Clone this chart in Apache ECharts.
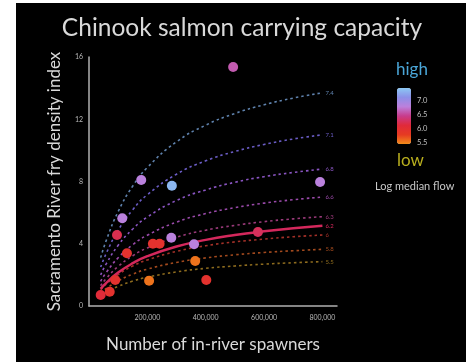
<!DOCTYPE html>
<html>
<head>
<meta charset="utf-8">
<script src="https://cdn.jsdelivr.net/npm/echarts@6/dist/echarts.min.js"></script>
<style>
  html, body { margin: 0; padding: 0; background: #ffffff; }
  #chart { width: 466px; height: 362px; }
</style>
</head>
<body>
<div id="chart"></div>
<script>
// Observed years: spawner counts, fry density index and log median flow
const spawners = [40000, 71000, 90000, 206000, 130000, 96000, 114000, 179000, 284000,
                  219000, 242000, 282000, 360000, 364000, 402000, 579000, 494000, 792000];
const fryIndex = [0.71, 0.92, 1.67, 1.62, 3.39, 4.56, 5.64, 8.1, 7.73,
                  4.0, 4.0, 4.39, 3.97, 2.89, 1.67, 4.76, 15.36, 7.97];
const logFlow  = [6.1, 5.95, 5.95, 5.55, 5.95, 6.2, 6.8, 6.8, 7.35,
                  5.95, 5.95, 6.8, 6.8, 5.55, 5.95, 6.25, 6.6, 6.8];

// Carrying-capacity curves for a range of log median flows
const curveX = [40000, 60000, 100000, 150000, 200000, 300000, 400000, 500000, 600000, 700000, 800000];
const curveLabels = ['7.4', '7.1', '6.8', '6.6', '6.3', '6.2', '6', '5.8', '5.5'];
const curve74 = [3.11, 4.26, 6.07, 7.71, 8.9, 10.55, 11.62, 12.37, 12.93, 13.36, 13.7];
const curve71 = [2.5, 3.42, 4.87, 6.19, 7.15, 8.47, 9.33, 9.93, 10.38, 10.73, 11.0];
const curve68 = [2.0, 2.74, 3.9, 4.95, 5.72, 6.78, 7.46, 7.95, 8.31, 8.58, 8.8];
const curve66 = [1.59, 2.18, 3.1, 3.94, 4.55, 5.39, 5.94, 6.32, 6.61, 6.83, 7.0];
const curve63 = [1.3, 1.79, 2.54, 3.23, 3.73, 4.42, 4.87, 5.18, 5.42, 5.6, 5.74];
const curve62 = [1.1, 1.5, 2.15, 2.75, 3.2, 3.82, 4.25, 4.56, 4.8, 5.0, 5.16];
const curve60 = [1.04, 1.42, 2.02, 2.57, 2.96, 3.51, 3.87, 4.12, 4.3, 4.45, 4.56];
const curve58 = [0.83, 1.13, 1.61, 2.05, 2.37, 2.8, 3.09, 3.29, 3.44, 3.55, 3.64];
const curve55 = [0.65, 0.89, 1.26, 1.6, 1.85, 2.19, 2.42, 2.57, 2.69, 2.78, 2.85];
const curves = [curve74, curve71, curve68, curve66, curve63, curve62, curve60, curve58, curve55];

// Colour-bar tick labels
const flowTicks = ['7.0', '6.5', '6.0', '5.5'];

// Line styling per curve
const curveColors = ['#5f82ad', '#6a5cc4', '#8a55c2', '#9a4aaa', '#9a3a7a', '#d4285c', '#a33028', '#a34a1e', '#8e6c1e'];
const FONT = 'Lato, "Open Sans", sans-serif';

const chart = echarts.init(document.getElementById('chart'), null, { renderer: 'canvas' });

const lineSeries = curves.map((vals, i) => {
  const solid = curveLabels[i] === '6.2';
  return {
    type: 'line',
    data: curveX.map((x, k) => [x, vals[k]]),
    smooth: true,
    symbol: 'none',
    silent: true,
    z: solid ? 3 : 2,
    lineStyle: {
      color: curveColors[i],
      width: solid ? 2.5 : 1.6,
      type: solid ? 'solid' : [2.5, 3]
    },
    endLabel: {
      show: true,
      formatter: curveLabels[i],
      color: curveColors[i],
      fontSize: 6,
      fontFamily: FONT,
      distance: 3
    }
  };
});

const option = {
  backgroundColor: '#000000',
  animation: false,
  title: {
    text: 'Chinook salmon carrying capacity',
    left: 237,
    textAlign: 'center',
    top: 11,
    textStyle: { color: '#d9d9d9', fontSize: 24.5, fontWeight: 'normal', fontFamily: FONT }
  },
  grid: { left: 89, right: 129, top: 57, bottom: 56, containLabel: false },
  xAxis: {
    type: 'value',
    min: 0,
    max: 850000,
    interval: 200000,
    name: 'Number of in-river spawners',
    nameLocation: 'middle',
    nameGap: 30,
    nameTextStyle: { color: '#d9d9d9', fontSize: 17, fontFamily: FONT },
    axisLine: { show: true, lineStyle: { color: '#b0b0b0', width: 1.5 } },
    axisTick: { show: false },
    splitLine: { show: false },
    axisLabel: {
      color: '#b8b8b8', fontSize: 7, fontFamily: FONT, margin: 8,
      formatter: v => (v === 0 ? '' : v.toLocaleString('en-US')),
      showMaxLabel: false
    }
  },
  yAxis: {
    type: 'value',
    min: 0,
    max: 16,
    interval: 4,
    name: 'Sacramento River fry density index',
    nameLocation: 'middle',
    nameRotate: 90,
    nameGap: 26,
    nameTextStyle: { color: '#d9d9d9', fontSize: 17, fontFamily: FONT },
    axisLine: { show: true, lineStyle: { color: '#b0b0b0', width: 1.5 } },
    axisTick: { show: false },
    splitLine: { show: false },
    axisLabel: { color: '#b8b8b8', fontSize: 7, fontFamily: FONT, margin: 6 }
  },
  visualMap: {
    type: 'continuous',
    seriesIndex: curves.length,
    dimension: 2,
    min: 5.45,
    max: 7.45,
    left: 397,
    top: 88,
    padding: 0,
    itemWidth: 14,
    itemHeight: 56,
    calculable: false,
    hoverLink: false,
    text: null,
    showLabel: false,
    inRange: {
      color: ['#f28c1a', '#e63a22', '#e02a3a', '#c83c8c', '#bc80dc', '#8c90e8', '#8cc8f4']
    }
  },
  graphic: [
    { type: 'rect', left: 0, top: 0, z: 100, shape: { width: 16, height: 362 }, style: { fill: '#ffffff' } },
    { type: 'rect', left: 0, top: 0, z: 100, shape: { width: 466, height: 3 }, style: { fill: '#ffffff' } },
    { type: 'text', left: 396, top: 61, style: { text: 'high', fill: '#4aa6d8', fontSize: 17, fontFamily: FONT } },
    { type: 'text', left: 397, top: 152, style: { text: 'low', fill: '#b8ae1e', fontSize: 17, fontFamily: FONT } },
    { type: 'text', left: 375, top: 181, style: { text: 'Log median flow', fill: '#c8c8c8', fontSize: 11, fontFamily: FONT } }
  ].concat(flowTicks.map((t, i) => ({
    type: 'text', left: 417, top: 97 + i * 14,
    style: { text: t, fill: '#c0c0c0', fontSize: 7.5, fontFamily: FONT }
  }))),
  series: lineSeries.concat([{
    type: 'scatter',
    data: spawners.map((x, i) => [x, fryIndex[i], logFlow[i]]),
    symbolSize: 10,
    z: 5,
    itemStyle: { opacity: 1 }
  }])
};

chart.setOption(option);
</script>
</body>
</html>
